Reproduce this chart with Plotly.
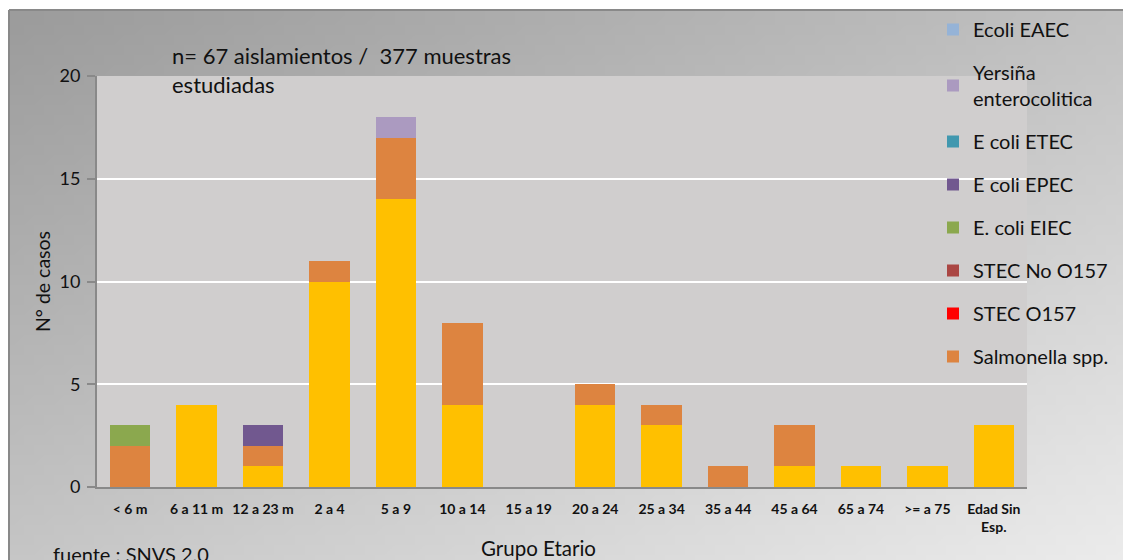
import base64
import struct
import zlib

import numpy as np
import plotly.graph_objects as go

# ---------------- data ----------------
categories = ["< 6 m", "6 a 11 m", "12 a 23 m", "2 a 4", "5 a 9", "10 a 14", "15 a 19",
              "20 a 24", "25 a 34", "35 a 44", "45 a 64", "65 a 74", ">= a 75", "Edad Sin<br>Esp."]

otros_amarillo = [0, 4, 1, 10, 14, 4, 0, 4, 3, 0, 1, 1, 1, 3]   # series not shown in legend
salmonella =     [2, 0, 1, 1, 3, 4, 0, 1, 1, 1, 2, 0, 0, 0]
stec_o157 =      [0] * 14
stec_no_o157 =   [0] * 14
ecoli_eiec =     [1, 0, 0, 0, 0, 0, 0, 0, 0, 0, 0, 0, 0, 0]
ecoli_epec =     [0, 0, 1, 0, 0, 0, 0, 0, 0, 0, 0, 0, 0, 0]
ecoli_etec =     [0] * 14
yersinia =       [0, 0, 0, 0, 1, 0, 0, 0, 0, 0, 0, 0, 0, 0]
ecoli_eaec =     [0] * 14

y_ticks = [0, 5, 10, 15, 20]

# (name, values, colour, shown in legend) -- stacking order bottom -> top
series = [
    ("Otros", otros_amarillo, "#FFC000", False),
    ("Salmonella spp.", salmonella, "#DD8440", True),
    ("STEC O157", stec_o157, "#FF0000", True),
    ("STEC No O157", stec_no_o157, "#AA4643", True),
    ("E. coli EIEC", ecoli_eiec, "#8BA84E", True),
    ("E coli EPEC", ecoli_epec, "#71588F", True),
    ("E coli ETEC", ecoli_etec, "#4198AF", True),
    ("Yersiña<br>enterocolitica", yersinia, "#AB9AC0", True),
    ("Ecoli EAEC", ecoli_eaec, "#95B3D7", True),
]

FONT = "Lato, 'Open Sans', sans-serif"
TXT = "#111111"

# ---------------- gradient background image ----------------
def png_gray(arr):
    h, w = arr.shape
    raw = b"".join(b"\x00" + arr[i].astype(np.uint8).tobytes() for i in range(h))

    def chunk(t, d):
        c = struct.pack(">I", len(d)) + t + d
        return c + struct.pack(">I", zlib.crc32(t + d) & 0xFFFFFFFF)

    ihdr = struct.pack(">IIBBBBB", w, h, 8, 0, 0, 0, 0)
    png = (b"\x89PNG\r\n\x1a\n" + chunk(b"IHDR", ihdr)
           + chunk(b"IDAT", zlib.compress(raw, 9)) + chunk(b"IEND", b""))
    return "data:image/png;base64," + base64.b64encode(png).decode()

gw, gh = 112, 55
u = np.linspace(0, 1, gw)[None, :]
v = np.linspace(0, 1, gh)[:, None]
grad = 156 + 38 * u + 42 * v
grad_uri = png_gray(np.clip(grad, 0, 255))

# ---------------- geometry ----------------
# page body has an 8px margin, so the figure starts at page pixel (8, 8)
OFF = 8
W, H = 1131 - OFF, 560 - OFF
PL, PR, PT, PB = 97, 1027, 76, 487          # plot area in page pixels
L, T = PL - OFF, PT - OFF
R, B = W - (PR - OFF), H - (PB - OFF)

def px_x(x):   # page pixel -> paper x
    return (x - PL) / (PR - PL)

def px_y(y):   # page pixel -> paper y
    return (PB - y) / (PB - PT)

fig = go.Figure()
n = len(series)
for i, (name, vals, color, show) in enumerate(series):
    fig.add_trace(go.Bar(
        x=categories, y=vals, name=name, marker=dict(color=color, line=dict(width=0)),
        showlegend=show, legendgroup=name, legendrank=n - i,
    ))

fig.update_layout(
    width=W, height=H,
    margin=dict(l=L, r=R, t=T, b=B, autoexpand=False),
    paper_bgcolor="white",
    plot_bgcolor="rgba(0,0,0,0)",
    barmode="stack",
    bargap=0.39,
    font=dict(family=FONT, color=TXT),
    legend=dict(
        x=px_x(933), xanchor="left", y=px_y(10), yanchor="top",
        font=dict(size=20, family=FONT, color=TXT),
        traceorder="grouped", tracegroupgap=14, maxheight=700,
        bgcolor="rgba(0,0,0,0)", itemclick=False,
    ),
    images=[dict(
        source=grad_uri, xref="paper", yref="paper",
        x=px_x(9), y=px_y(10), sizex=(1131 - 9) / (PR - PL), sizey=(560 - 10) / (PB - PT),
        xanchor="left", yanchor="top", sizing="stretch", layer="below",
    )],
    shapes=[
        dict(type="rect", xref="paper", yref="paper", x0=0, x1=1, y0=0, y1=1,
             fillcolor="#D0CECE", line=dict(width=0), layer="below"),
        dict(type="line", xref="paper", yref="paper", x0=px_x(9), x1=px_x(1140),
             y0=px_y(10), y1=px_y(10), line=dict(color="#898989", width=2), layer="below"),
        dict(type="line", xref="paper", yref="paper", x0=px_x(9), x1=px_x(9),
             y0=px_y(10), y1=px_y(570), line=dict(color="#898989", width=2), layer="below"),
    ],
    annotations=[
        dict(text="n= 67 aislamientos /  377 muestras<br>estudiadas", xref="paper", yref="paper",
             x=px_x(170), y=px_y(40), xanchor="left", yanchor="top", align="left",
             showarrow=False, font=dict(size=22, family=FONT, color=TXT)),
        dict(text="fuente : SNVS 2.0", xref="paper", yref="paper",
             x=px_x(51), y=px_y(554), xanchor="left", yanchor="middle",
             showarrow=False, font=dict(size=20, family=FONT, color=TXT)),
        dict(text="Grupo Etario", xref="paper", yref="paper",
             x=px_x(538), y=px_y(548), xanchor="center", yanchor="middle",
             showarrow=False, font=dict(size=20.5, family=FONT, color=TXT)),
    ],
)

fig.update_yaxes(
    range=[0, 20], tickvals=y_ticks, showgrid=True, gridcolor="white", gridwidth=2,
    zeroline=False, showline=True, linecolor="#898989", linewidth=2,
    ticks="outside", ticklen=8, tickcolor="#898989", tickwidth=2,
    ticklabelstandoff=3,
    tickfont=dict(size=18, family=FONT, color=TXT),
    title=dict(text="N° de casos", font=dict(size=19.5, family=FONT, color=TXT), standoff=4),
)
fig.update_xaxes(
    showline=True, linecolor="#898989", linewidth=2, ticks="", showgrid=False,
    ticklabelstandoff=8, tickangle=0,
    tickfont=dict(size=14, family=FONT, color=TXT, weight="bold"),
)

fig.write_html("out.html")
